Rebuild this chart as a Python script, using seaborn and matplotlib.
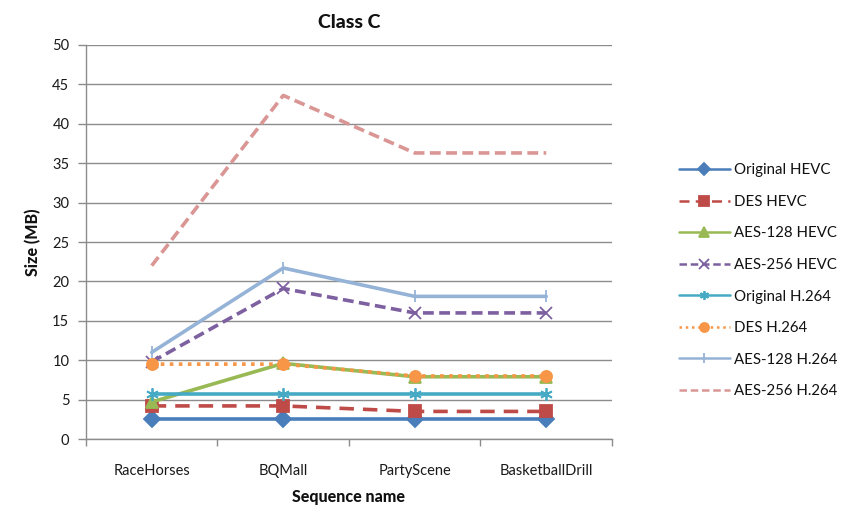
import matplotlib
matplotlib.use("Agg")
import matplotlib.pyplot as plt
import seaborn as sns
import pandas as pd
from matplotlib.ticker import FixedLocator

sequences = ["RaceHorses", "BQMall", "PartyScene", "BasketballDrill"]

original_hevc = [2.5, 2.5, 2.5, 2.5]
des_hevc = [4.2, 4.2, 3.5, 3.5]
aes128_hevc = [4.7, 9.6, 7.9, 7.9]
aes256_hevc = [9.8, 19.1, 16.0, 16.0]
original_h264 = [5.7, 5.7, 5.7, 5.7]
des_h264 = [9.5, 9.5, 8.0, 8.0]
aes128_h264 = [11.0, 21.7, 18.1, 18.1]
aes256_h264 = [22.0, 43.6, 36.3, 36.3]

series_names = ["Original HEVC", "DES HEVC", "AES-128 HEVC", "AES-256 HEVC",
                "Original H.264", "DES H.264", "AES-128 H.264", "AES-256 H.264"]
series_values = [original_hevc, des_hevc, aes128_hevc, aes256_hevc,
                 original_h264, des_h264, aes128_h264, aes256_h264]

# line styling per series: colour, dash pattern, marker
styles = {
    "Original HEVC": ("#4A7EBB", None, "D"),
    "DES HEVC": ("#BE4B48", (4, 2.5), "s"),
    "AES-128 HEVC": ("#98B954", None, "^"),
    "AES-256 HEVC": ("#7D60A0", (3, 1.5), "x"),
    "Original H.264": ("#46AAC5", None, (6, 2, 0)),
    "DES H.264": ("#F79646", (1, 1.5), "o"),
    "AES-128 H.264": ("#95B3D7", None, "|"),
    "AES-256 H.264": ("#D99694", (3, 1.5), None),
}

sns.set_theme(style="white")
plt.rcParams["font.family"] = ["Lato", "DejaVu Sans"]

fig = plt.figure(figsize=(8.54, 5.16), dpi=100)
ax = fig.add_axes([0.1007, 0.1492, 0.6159, 0.7636])

ax.yaxis.grid(True, color="#8c8c8c", linewidth=1.0)
ax.set_axisbelow(True)

for name, vals in zip(series_names, series_values):
    d = pd.DataFrame({"pos": range(len(sequences)), "Size": vals})
    color, dash, marker = styles[name]
    kw = dict(color=color, linewidth=2.6, label=name, ax=ax)
    if marker is not None:
        kw.update(marker=marker, markersize=8 if marker not in ("x", "|", (6, 2, 0)) else 9,
                  markeredgewidth=1.3, markeredgecolor=color, markerfacecolor=color)
    line = sns.lineplot(data=d, x="pos", y="Size", **kw).get_lines()[-1]
    if dash is not None:
        line.set_dashes(dash)

ax.set_xlim(-0.5, 3.5)
ax.set_ylim(0, 50)
ax.set_yticks(range(0, 51, 5))
ax.set_xticks(range(len(sequences)))
ax.set_xticklabels(sequences)
ax.xaxis.set_minor_locator(FixedLocator([-0.5, 0.5, 1.5, 2.5, 3.5]))
ax.tick_params(axis="x", which="major", length=0, pad=18, labelsize=10.5, colors="#1a1a1a")
ax.tick_params(axis="x", which="minor", length=5, width=1, color="#8c8c8c", direction="out", bottom=True)
ax.tick_params(axis="y", length=6, width=1, color="#8c8c8c", direction="out", left=True,
               labelsize=10.5, labelcolor="#1a1a1a", pad=6)

for side in ["top", "right"]:
    ax.spines[side].set_visible(False)
for side in ["left", "bottom"]:
    ax.spines[side].set_color("#8c8c8c")
    ax.spines[side].set_linewidth(1.0)

ax.set_xlabel("Sequence name", fontsize=11.5, fontweight="black", labelpad=8, color="#111111")
ax.set_ylabel("Size (MB)", fontsize=11.5, fontweight="black", labelpad=8, color="#111111")
ax.set_title("Class C", fontsize=14, fontweight="black", pad=12, color="#111111")

handles, labels = ax.get_legend_handles_labels()
leg = ax.legend(handles, labels, loc="upper left", bbox_to_anchor=(0.788, 0.695),
                bbox_transform=fig.transFigure, frameon=False, fontsize=10.8,
                handlelength=3.4, labelspacing=1.17, handletextpad=0.3,
                borderaxespad=0)
for t in leg.get_texts():
    t.set_color("#111111")
for h in leg.legend_handles:
    h.set_linewidth(1.8)
    h.set_markersize(6.5)

fig.savefig("out.png", dpi=100, facecolor="white")
